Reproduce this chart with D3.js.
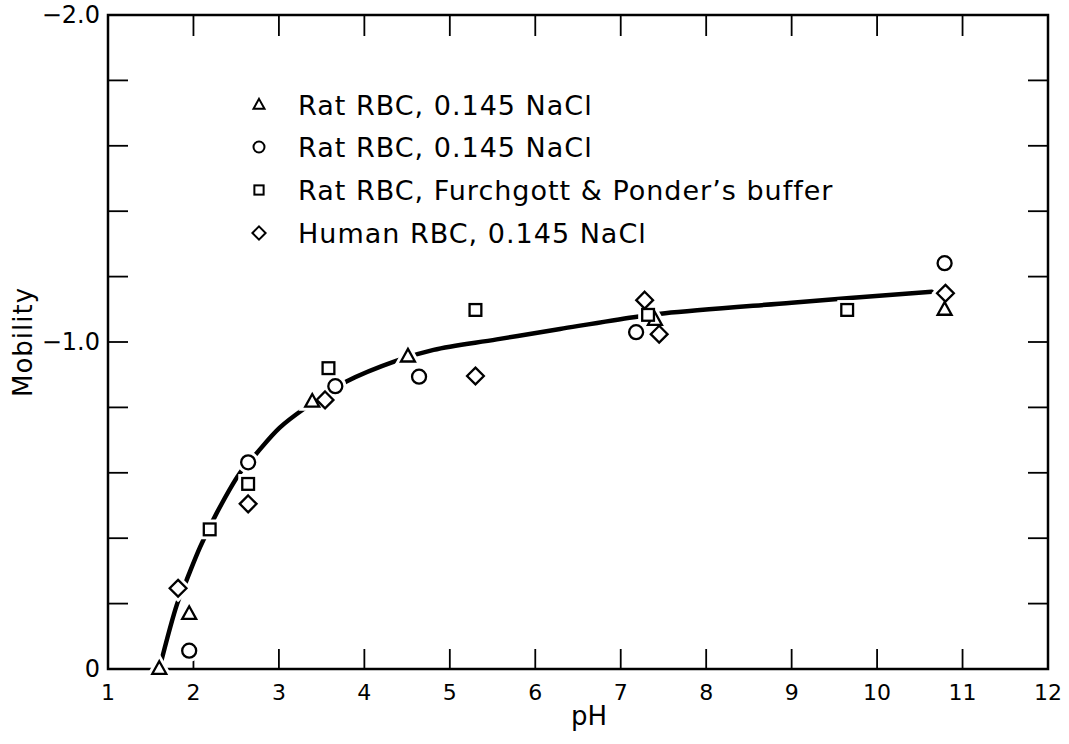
<!DOCTYPE html>
<html><head><meta charset="utf-8">
<script src="https://cdn.jsdelivr.net/npm/d3@7"></script>
<style>body{margin:0;background:#fff}svg{display:block}text{font-family:"DejaVu Sans",sans-serif;fill:#000}</style>
</head><body><svg id="c" width="1069" height="744"></svg>
<script>
// Data (mobility values; axis runs 0 at bottom to -2.0 at top)
const triX = [1.60, 1.95, 3.39, 4.51, 7.40, 10.79];
const triY = [0, -0.168, -0.817, -0.955, -1.067, -1.098];
const cirX = [1.95, 2.64, 3.66, 4.64, 7.18, 10.79];
const cirY = [-0.056, -0.632, -0.865, -0.894, -1.030, -1.241];
const sqX = [2.19, 2.64, 3.58, 5.30, 7.32, 9.65];
const sqY = [-0.427, -0.566, -0.920, -1.098, -1.083, -1.098];
const diaX = [1.82, 2.64, 3.54, 5.30, 7.28, 7.45, 10.80];
const diaY = [-0.247, -0.505, -0.823, -0.896, -1.128, -1.024, -1.149];
const curveX = [1.60, 1.81, 1.92, 2.08, 2.27, 2.54, 2.74, 3.01, 3.29, 3.79, 4.38, 4.81, 5.55, 6.29, 7.15, 7.52, 9.00, 10.64];
const curveY = [0, -0.200, -0.272, -0.374, -0.476, -0.598, -0.660, -0.738, -0.795, -0.879, -0.943, -0.976, -1.008, -1.040, -1.076, -1.088, -1.120, -1.154];
const xTicks = [1,2,3,4,5,6,7,8,9,10,11,12];
const yTicks = [0,-0.2,-0.4,-0.6,-0.8,-1.0,-1.2,-1.4,-1.6,-1.8,-2.0];
const yLabels = {"0":"0","-1":"\u22121.0","-2":"\u22122.0"};
const legendLabels = ["Rat RBC, 0.145 NaCl","Rat RBC, 0.145 NaCl","Rat RBC, Furchgott & Ponder\u2019s buffer","Human RBC, 0.145 NaCl"];
const legendShapes = ["tri","cir","sq","dia"];

const svg = d3.select("#c");
const L=108, R=1048, T=15, B=669;
const x = d3.scaleLinear().domain([1,12]).range([L,R]);
const y = d3.scaleLinear().domain([0,-2]).range([B,T]);

svg.append("rect").attr("x",L).attr("y",T).attr("width",R-L).attr("height",B-T)
  .attr("fill","none").attr("stroke","#000").attr("stroke-width",2.5);

const ax = svg.append("g").attr("stroke","#000").attr("stroke-width",1.8);
xTicks.slice(1,-1).forEach(v=>{
  ax.append("line").attr("x1",x(v)).attr("x2",x(v)).attr("y1",B).attr("y2",B-20);
  ax.append("line").attr("x1",x(v)).attr("x2",x(v)).attr("y1",T).attr("y2",T+21);
});
yTicks.slice(1,-1).forEach(v=>{
  ax.append("line").attr("x1",L).attr("x2",L+20).attr("y1",y(v)).attr("y2",y(v));
  ax.append("line").attr("x1",R).attr("x2",R-20).attr("y1",y(v)).attr("y2",y(v));
});
xTicks.forEach(v=>{
  svg.append("text").attr("x",x(v)).attr("y",700).attr("text-anchor","middle")
    .attr("font-size",22).text(v);
});
yTicks.forEach(v=>{
  if (Math.abs(v-Math.round(v))<1e-9) {
    svg.append("text").attr("x",100).attr("y",y(v)+8).attr("text-anchor","end")
      .attr("font-size",24).text(yLabels[String(Math.round(v))]);
  }
});
svg.append("text").attr("x",589).attr("y",725).attr("text-anchor","middle").attr("font-size",26).text("pH");
svg.append("text").attr("transform","translate(32,342) rotate(-90)").attr("text-anchor","middle").attr("font-size",26).attr("letter-spacing",1).text("Mobility");

function shape(g, type, cx, cy, s){
  if(type==="tri"){
    const h=s*0.9;
    return g.append("path").attr("d",`M${cx},${cy-h*0.62}L${cx+s/2},${cy+h*0.38}L${cx-s/2},${cy+h*0.38}Z`);
  } else if(type==="cir"){
    return g.append("circle").attr("cx",cx).attr("cy",cy).attr("r",s/2);
  } else if(type==="sq"){
    return g.append("rect").attr("x",cx-s*0.42).attr("y",cy-s*0.42).attr("width",s*0.84).attr("height",s*0.84);
  } else {
    const d=s*0.6;
    return g.append("path").attr("d",`M${cx},${cy-d}L${cx+d},${cy}L${cx},${cy+d}L${cx-d},${cy}Z`);
  }
}

const line = d3.line().x((d,i)=>x(curveX[i])).y((d,i)=>y(curveY[i])).curve(d3.curveCatmullRom.alpha(0.5));
svg.append("path").attr("d",line(curveX)).attr("fill","none").attr("stroke","#000").attr("stroke-width",4.5).attr("stroke-linecap","round");

const sets = [["tri",triX,triY],["cir",cirX,cirY],["sq",sqX,sqY],["dia",diaX,diaY]];
const halo = svg.append("g").attr("fill","#fff").attr("stroke","#fff").attr("stroke-width",8);
sets.forEach(([t,xs,ys])=>xs.forEach((v,i)=>shape(halo,t,x(v),y(ys[i]),14)));
const mk = svg.append("g").attr("fill","#fff").attr("stroke","#000").attr("stroke-width",2.3);
sets.forEach(([t,xs,ys])=>xs.forEach((v,i)=>shape(mk,t,x(v),y(ys[i]),14)));

const legY = [105,147,190,233];
const lg = svg.append("g");
legendShapes.forEach((t,i)=>{
  shape(lg,t,259,legY[i],11).attr("fill","#fff").attr("stroke","#000").attr("stroke-width",2);
  lg.append("text").attr("x",298).attr("y",legY[i]+10).attr("font-size",27).attr("letter-spacing",1).text(legendLabels[i]);
});
</script></body></html>
